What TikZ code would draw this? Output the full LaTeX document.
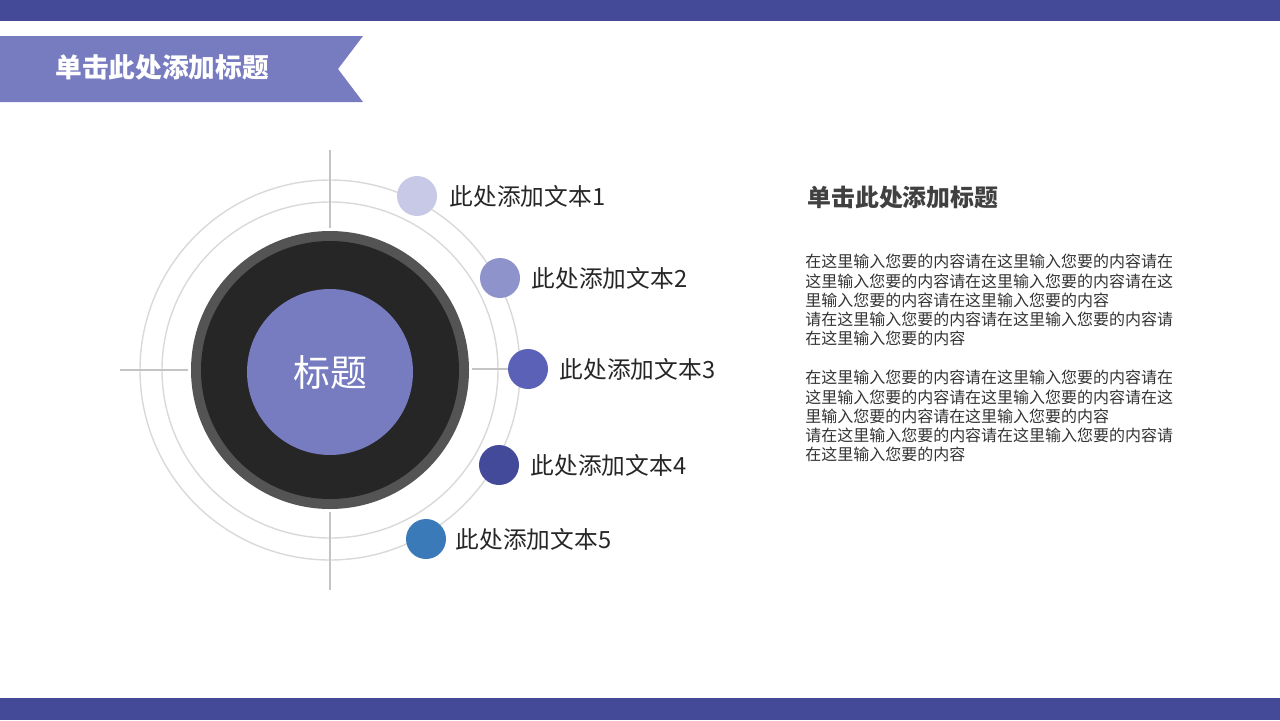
\documentclass[tikz,border=0pt]{standalone}
\usepackage{fontspec}
\setmainfont{Noto Sans CJK SC}
\usepackage{xcolor}
\usetikzlibrary{positioning}
\definecolor{pptnavy}{HTML}{444A98}
\definecolor{pptpurple}{HTML}{777BC0}
\definecolor{dotone}{HTML}{C8C9E6}
\definecolor{dottwo}{HTML}{8E93CC}
\definecolor{dotthree}{HTML}{5B61B6}
\definecolor{dotfour}{HTML}{434A9A}
\definecolor{dotfive}{HTML}{3A7AB8}
\definecolor{ringgray}{HTML}{D9D9D9}
\definecolor{crossgray}{HTML}{C4C4C4}

\begin{document}
\begin{tikzpicture}[
    x=0.02cm, y=-0.02cm,
    dot/.style={circle, minimum size=0.8cm, inner sep=0pt},
    label/.style={font=\fontsize{13.5}{16}\selectfont, text=black!85, inner sep=0pt},
    ring/.style={draw=ringgray, line width=0.8pt},
    cross/.style={draw=crossgray, line width=1.2pt},
    body/.style={font=\fontsize{9.1}{10.93}\selectfont, text=black!80, align=left, inner sep=0pt, anchor=north west}
]
\useasboundingbox (0,0) rectangle (1280,720);
\fill[pptnavy] (0,0) rectangle (1280,21);
\fill[pptnavy] (0,698) rectangle (1280,720);

\fill[pptpurple] (0,36) -- (363,36) -- (338,69) -- (363,102) -- (0,102) -- cycle;
\node[font=\fontsize{15.2}{18}\selectfont\bfseries, text=white, anchor=west, inner sep=0pt] (banner) at (55,67) {单击此处添加标题};

\draw[ring] (330,370) circle (190);
\draw[ring] (330,370) circle (168);

\draw[cross] (330,150) -- (330,228);
\draw[cross] (330,512) -- (330,590);
\draw[cross] (120,370) -- (188,370);

\fill[black!67] (330,370) circle (139);
\fill[black!85] (330,370) circle (129);
\node[circle, fill=pptpurple, minimum size=3.32cm, inner sep=0pt, text=white, font=\fontsize{21}{24}\selectfont] (core) at (330,372) {标题};

\node[dot, fill=dotone] (d1) at (417,196) {};
\node[dot, fill=dottwo] (d2) at (500,278) {};
\node[dot, fill=dotthree] (d3) at (528,369) {};
\node[dot, fill=dotfour] (d4) at (499,465) {};
\node[dot, fill=dotfive] (d5) at (426,539) {};

\coordinate (spoke) at (472,369);
\draw[cross] (spoke) -- (d3);

\node[label, right=0.24cm of d1] (t1) {此处添加文本1};
\node[label, right=0.22cm of d2] (t2) {此处添加文本2};
\node[label, right=0.22cm of d3] (t3) {此处添加文本3};
\node[label, right=0.22cm of d4] (t4) {此处添加文本4};
\node[label, right=0.18cm of d5] (t5) {此处添加文本5};

\node[font=\fontsize{13.6}{16}\selectfont\bfseries, text=black!75, anchor=west, inner sep=0pt] (head) at (807,197) {单击此处添加标题};

\node[body] (p1) at (805,254) {在这里输入您要的内容请在这里输入您要的内容请在\\这里输入您要的内容请在这里输入您要的内容请在这\\里输入您要的内容请在这里输入您要的内容\\请在这里输入您要的内容请在这里输入您要的内容请\\在这里输入您要的内容};
\node[body] (p2) at (805,370) {在这里输入您要的内容请在这里输入您要的内容请在\\这里输入您要的内容请在这里输入您要的内容请在这\\里输入您要的内容请在这里输入您要的内容\\请在这里输入您要的内容请在这里输入您要的内容请\\在这里输入您要的内容};
\end{tikzpicture}
\end{document}
